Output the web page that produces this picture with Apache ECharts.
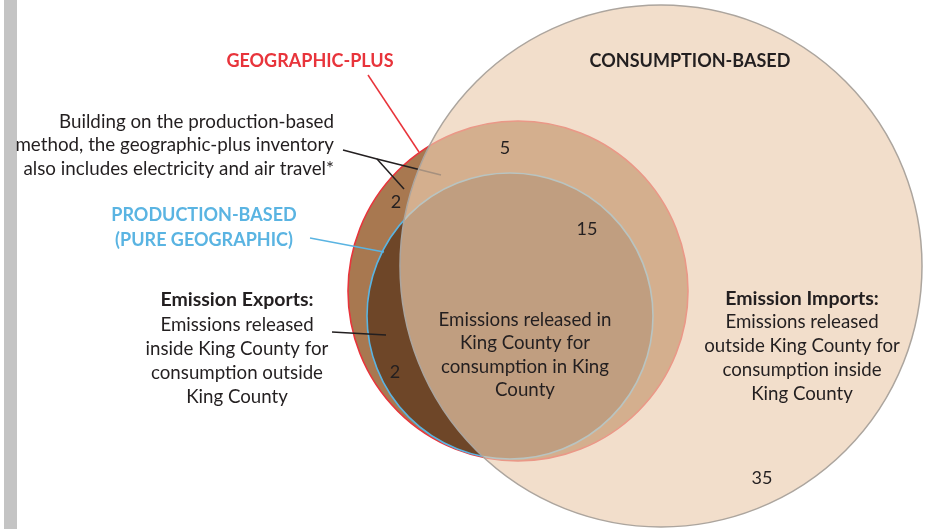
<!DOCTYPE html>
<html>
<head>
<meta charset="utf-8">
<script src="https://cdn.jsdelivr.net/npm/echarts@6/dist/echarts.min.js"></script>
<style>
html,body{margin:0;padding:0;background:#fff;}
#chart{width:926px;height:529px;}
</style>
</head>
<body>
<div id="chart"></div>
<script>
// ---- Data ----
const circleNames = ['GEOGRAPHIC-PLUS', 'PRODUCTION-BASED', 'CONSUMPTION-BASED'];
const circleCenterX = [518, 510, 661];
const circleCenterY = [291, 316, 266];
const circleRadius = [170, 143, 261];

const regionValues = [2, 2, 5, 15, 35];
const regionAnchorX = [396, 395, 505, 587, 762];
const regionAnchorY = [202, 372, 148, 229, 478];

const titleTexts = ['GEOGRAPHIC-PLUS', 'PRODUCTION-BASED\n(PURE GEOGRAPHIC)', 'CONSUMPTION-BASED'];
const noteText = 'Building on the production-based\nmethod, the geographic-plus inventory\nalso includes electricity and air travel*';
const exportsHead = 'Emission Exports:';
const exportsBody = 'Emissions released\ninside King County for\nconsumption outside\nKing County';
const insideBody = 'Emissions released in\nKing County for\nconsumption in King\nCounty';
const importsHead = 'Emission Imports:';
const importsBody = 'Emissions released\noutside King County for\nconsumption inside\nKing County';

// ---- Layout / style ----
const FONT = 'Lato, "Open Sans", sans-serif';
const circleFill = ['rgb(168,120,80)', 'rgba(52,20,0,0.5)', 'rgba(235,205,176,0.655)'];
const circleStroke = ['#e8343b', '#5ab4e2', '#aca59e'];

const circleData = circleNames.map((n, i) => [circleCenterX[i], circleCenterY[i], circleRadius[i]]);

const leaders = [
  { pts: [[368, 75], [419, 152]], color: '#e8343b' },
  { pts: [[343, 150], [377, 159], [441, 175]], color: '#231f20' },
  { pts: [[377, 159], [404, 189]], color: '#231f20' },
  { pts: [[310, 238], [384, 252]], color: '#5ab4e2' },
  { pts: [[332, 332], [386, 335]], color: '#231f20' }
];

const texts = [
  { t: titleTexts[0], x: 310, y: 61, c: '#e8343b', w: 'bold', a: 'center', lh: 24, s: 18 },
  { t: titleTexts[2], x: 690, y: 61, c: '#231f20', w: 'bold', a: 'center', lh: 24, s: 18 },
  { t: titleTexts[1], x: 204, y: 228, c: '#5ab4e2', w: 'bold', a: 'center', lh: 25, s: 18 },
  { t: noteText, x: 334, y: 145, c: '#231f20', w: 'normal', a: 'right', lh: 23.5, s: 18.8 },
  { t: exportsHead, x: 237, y: 300, c: '#231f20', w: 'bold', a: 'center', lh: 24, s: 19.5 },
  { t: exportsBody, x: 237, y: 361, c: '#231f20', w: 'normal', a: 'center', lh: 24, s: 18.7 },
  { t: insideBody, x: 525, y: 355, c: '#231f20', w: 'normal', a: 'center', lh: 23.5, s: 18.7 },
  { t: importsHead, x: 802, y: 299, c: '#231f20', w: 'bold', a: 'center', lh: 24, s: 19.5 },
  { t: importsBody, x: 802, y: 358, c: '#231f20', w: 'normal', a: 'center', lh: 23.7, s: 18.7 }
];
regionValues.forEach((v, i) => texts.push({ t: String(v), x: regionAnchorX[i], y: regionAnchorY[i], c: '#231f20', w: 'normal', a: 'center', lh: 20, s: 18 }));

const chart = echarts.init(document.getElementById('chart'), null, { renderer: 'canvas' });

function circleItem(params, api) {
  const i = params.dataIndex;
  const c = api.coord([api.value(0), api.value(1)]);
  const r = api.size([api.value(2), 0])[0];
  return {
    type: 'circle',
    shape: { cx: c[0], cy: c[1], r: r },
    style: { fill: circleFill[i], stroke: circleStroke[i], lineWidth: 1.6 }
  };
}

chart.setOption({
  animation: false,
  backgroundColor: '#ffffff',
  grid: { left: 0, right: 0, top: 0, bottom: 0 },
  xAxis: { type: 'value', min: 0, max: 926, show: false },
  yAxis: { type: 'value', min: 0, max: 529, inverse: true, show: false },
  graphic: [
    { type: 'rect', left: 4, top: 0, shape: { width: 13, height: 529 }, style: { fill: '#c4c4c4' } }
  ],
  series: [
    {
      type: 'custom', name: 'inner circles', z: 1,
      data: circleData.slice(0, 2),
      renderItem: circleItem
    },
    {
      type: 'custom', name: 'leaders', z: 2,
      data: leaders.map((l, i) => [i]),
      renderItem: function (params, api) {
        const l = leaders[params.dataIndex];
        return {
          type: 'polyline',
          shape: { points: l.pts.map(p => api.coord(p)) },
          style: { stroke: l.color, lineWidth: 1.5, fill: null }
        };
      }
    },
    {
      type: 'custom', name: 'consumption circle', z: 3,
      data: [circleData[2]],
      renderItem: function (params, api) {
        const c = api.coord([api.value(0), api.value(1)]);
        const r = api.size([api.value(2), 0])[0];
        return {
          type: 'circle',
          shape: { cx: c[0], cy: c[1], r: r },
          style: { fill: circleFill[2], stroke: circleStroke[2], lineWidth: 1.5 }
        };
      }
    },
    {
      type: 'custom', name: 'texts', z: 4,
      data: texts.map(t => [t.x, t.y]),
      renderItem: function (params, api) {
        const t = texts[params.dataIndex];
        const p = api.coord([api.value(0), api.value(1)]);
        return {
          type: 'text',
          x: p[0], y: p[1],
          style: {
            text: t.t, fill: t.c, fontFamily: FONT, fontSize: t.s, fontWeight: t.w,
            align: t.a, verticalAlign: 'middle', lineHeight: t.lh
          }
        };
      }
    }
  ]
});
</script>
</body>
</html>
